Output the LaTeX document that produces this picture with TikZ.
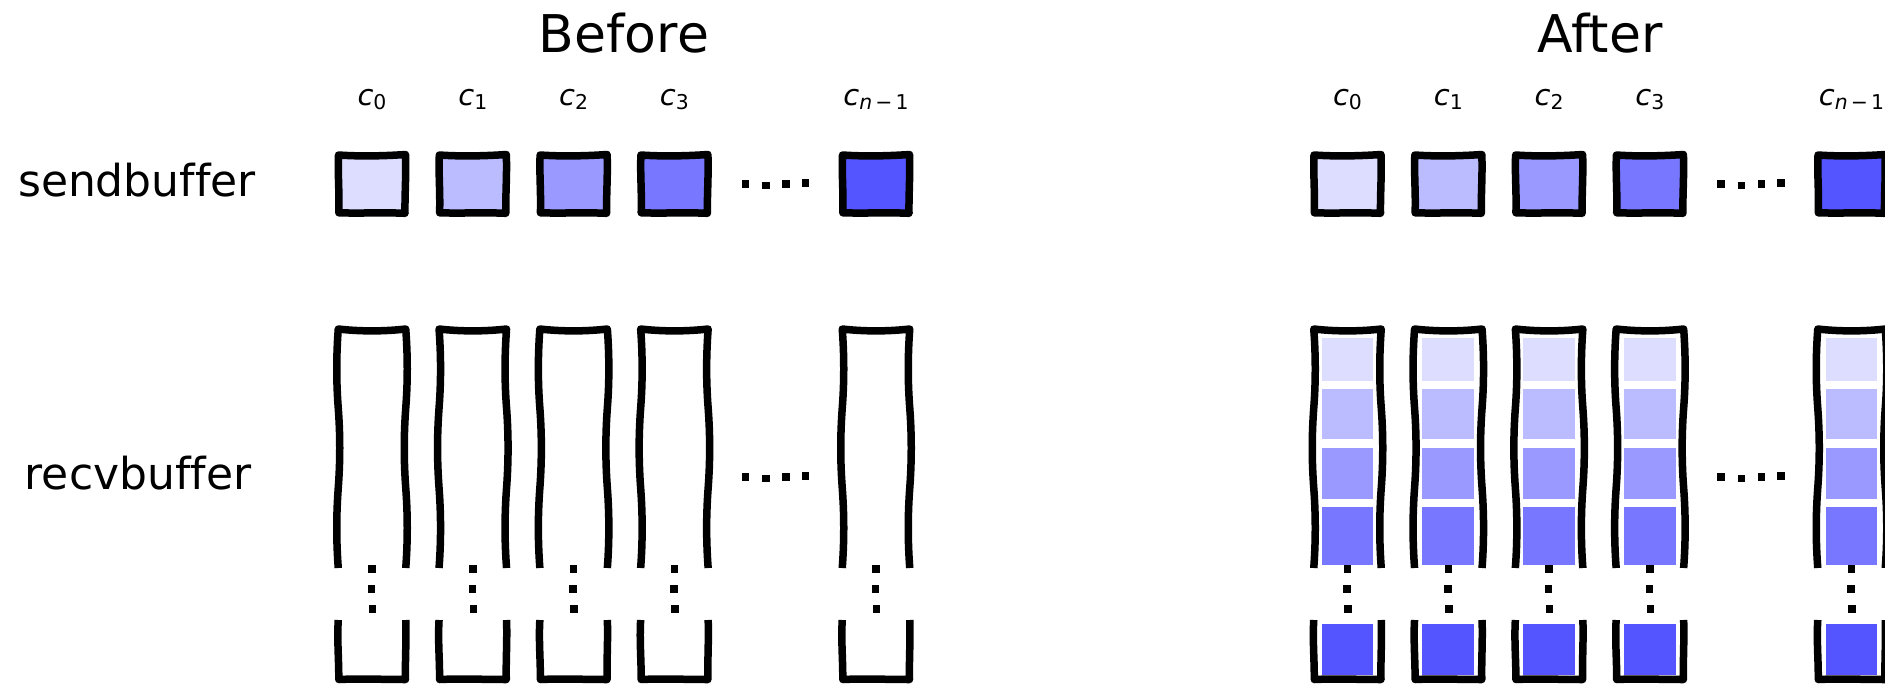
\documentclass[tikz,border=0pt]{standalone}
\usepackage{fontspec}
\setmainfont{DejaVu Sans}[ItalicFont={DejaVu Sans Oblique},Ligatures=NoCommon]
\definecolor{cA}{HTML}{DDDDFF}
\definecolor{cB}{HTML}{BBBBFF}
\definecolor{cC}{HTML}{9999FF}
\definecolor{cD}{HTML}{7777FF}
\definecolor{cE}{HTML}{5555FF}
\newcommand\csub[1]{\raisebox{-2pt}{\fontsize{10.2pt}{12pt}\selectfont #1}}
\newcommand\sendsq[2]{%
  \draw[outline, fill=#2] ({#1-33.5},155) .. controls ({#1-12},156.5) and ({#1+12},156) .. ({#1+33.5},154.5)
    .. controls ({#1+34.3},174) and ({#1+32.7},194) .. ({#1+33},213.3)
    .. controls ({#1+12},212.3) and ({#1-12},213.5) .. ({#1-33.2},212.8)
    .. controls ({#1-32.5},193) and ({#1-34.3},174) .. cycle;}
\newcommand\recvcol[2]{%
  \draw[outline] ({#1-33.75},568)
    .. controls ({#1-33.75-2*(#2)},541) and ({#1-33.75-2*(#2)},515) .. ({#1-33.75},488)
    .. controls ({#1-33.75+2*(#2)},461) and ({#1-33.75+2*(#2)},435) .. ({#1-33.75},408)
    .. controls ({#1-33.75-2*(#2)},382) and ({#1-33.75-2*(#2)},356) .. ({#1-33.75},329)
    .. controls ({#1-12},331.5) and ({#1+12},331.5) .. ({#1+33.75},329)
    .. controls ({#1+33.75+2*(#2)},356) and ({#1+33.75+2*(#2)},382) .. ({#1+33.75},408)
    .. controls ({#1+33.75-2*(#2)},435) and ({#1+33.75-2*(#2)},461) .. ({#1+33.75},488)
    .. controls ({#1+33.75+2*(#2)},515) and ({#1+33.75+2*(#2)},541) .. ({#1+33.75},568);
  \draw[outline] ({#1-33.75},620)
    .. controls ({#1-35},640) and ({#1-33},662) .. ({#1-33.25},679.5)
    .. controls ({#1-12},678.5) and ({#1+12},679.5) .. ({#1+33.5},679.5)
    .. controls ({#1+33},662) and ({#1+34.5},640) .. ({#1+33.75},620);}
\newcommand\dotsq[2]{\fill ({#1-3.75},{#2-3.75}) rectangle ({#1+3.75},{#2+3.75});}
\newcommand\coldots[1]{\dotsq{#1}{569}\dotsq{#1-0.5}{589}\dotsq{#1+0.5}{609}}
\newcommand\rowdots[2]{\dotsq{#1}{#2+0.2}\dotsq{#1+20.5}{#2+1.5}\dotsq{#1+40.5}{#2}\dotsq{#1+60}{#2-1}}
\newcommand\cellfill[4]{%
  \draw[cell, fill=#4] ({#1-26.75},#2) -- ({#1+26.75},#2) -- ({#1+26.75},#3) -- ({#1-26.75},#3) -- cycle;}
\begin{document}
\begin{tikzpicture}[x=0.5pt,y=-0.5pt,
  outline/.style={draw=black,line width=3.75pt,line join=round,line cap=butt},
  cell/.style={draw=white,line width=0.8pt,line join=round},
  ttl/.style={anchor=base,inner sep=0pt,font=\fontsize{26pt}{30pt}\selectfont},
  lbl/.style={anchor=base,inner sep=0pt,font=\fontsize{22pt}{26pt}\selectfont},
  clbl/.style={anchor=base,inner sep=0pt,font=\fontsize{14.5pt}{17pt}\selectfont}]
\clip (0,0) rectangle (1885,685);
\fill[white] (0,0) rectangle (1885,685);
% titles and row labels
\node[ttl] (before) at (624,52.3) {Before};
\node[ttl] (after) at (1600,52.3) {After};
\node[lbl] (send) at (137,196) {sendbuffer};
\node[lbl] (recv) at (138,489.3) {recvbuffer};
% column labels
\foreach \i in {0,...,3}{
  \node[clbl] (cb\i) at ({372+100.8*\i},105) {\textit{c}\csub{\i}};
  \node[clbl] (ca\i) at ({1347.5+100.8*\i},105) {\textit{c}\csub{\i}};
}
\node[clbl] (cbn) at (876,105) {\textit{c}\csub{\textit{n}\hspace{1.6pt}−\hspace{1.6pt}1}};
\node[clbl] (can) at (1851.5,105) {\textit{c}\csub{\textit{n}\hspace{1.6pt}−\hspace{1.6pt}1}};
% Before panel
\foreach \i/\col in {0/cA,1/cB,2/cC,3/cD,5/cE}{
  \pgfmathsetmacro\cx{372+100.8*\i}
  \pgfmathsetmacro\sg{ifthenelse(mod(\i,2)==0,1,-1)}
  \sendsq{\cx}{\col}
  \recvcol{\cx}{\sg}
  \coldots{\cx}
}
\rowdots{745.5}{184}
\rowdots{745.5}{477}
% After panel
\foreach \i/\col in {0/cA,1/cB,2/cC,3/cD,5/cE}{
  \pgfmathsetmacro\cx{1347.5+100.8*\i}
  \pgfmathsetmacro\sg{ifthenelse(mod(\i,2)==0,-1,1)}
  \sendsq{\cx}{\col}
  \cellfill{\cx}{337.3}{381.7}{cA}
  \cellfill{\cx}{388.3}{440}{cB}
  \cellfill{\cx}{446.7}{500}{cC}
  \cellfill{\cx}{506}{565.7}{cD}
  \cellfill{\cx}{622.7}{676}{cE}
  \recvcol{\cx}{\sg}
  \coldots{\cx}
}
\rowdots{1721}{184}
\rowdots{1721}{477}
\end{tikzpicture}
\end{document}
